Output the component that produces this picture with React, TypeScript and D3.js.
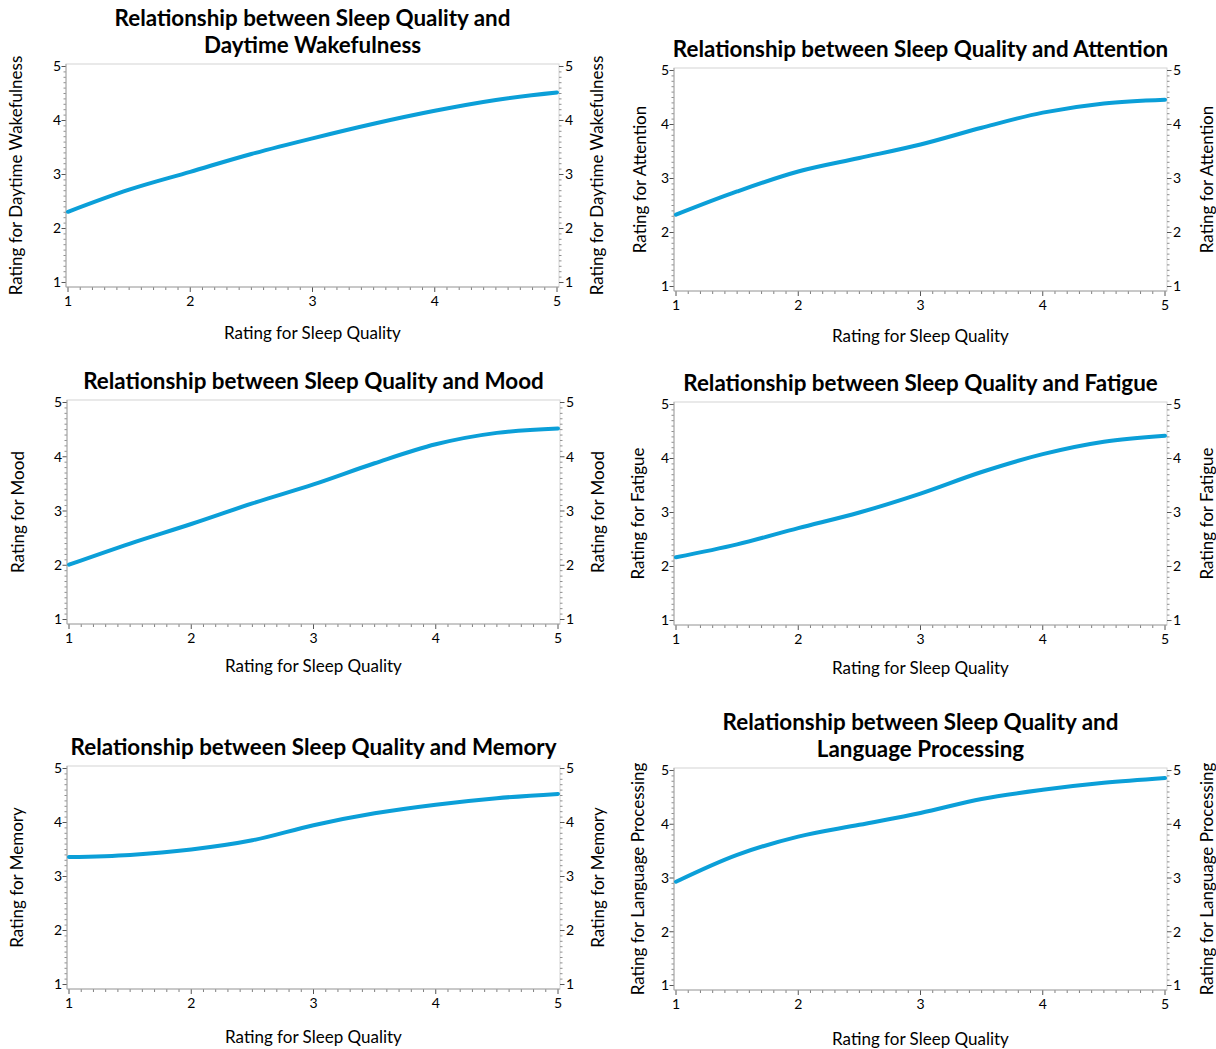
import React, { useEffect, useRef } from 'react';
import * as d3 from 'd3';

// sleep quality rating (x) sampled at half steps
const sleepQuality = [1, 1.5, 2, 2.5, 3, 3.5, 4, 4.5, 5];

// fitted outcome ratings
const wakefulness = [2.31, 2.72, 3.05, 3.38, 3.67, 3.94, 4.18, 4.38, 4.52];
const attention = [2.33, 2.76, 3.13, 3.38, 3.63, 3.94, 4.22, 4.39, 4.46];
const mood = [2.01, 2.40, 2.76, 3.14, 3.49, 3.88, 4.23, 4.44, 4.52];
const fatigue = [2.17, 2.41, 2.71, 3.0, 3.35, 3.75, 4.08, 4.31, 4.42];
const memory = [3.36, 3.40, 3.50, 3.67, 3.95, 4.17, 4.33, 4.45, 4.53];
const language = [2.93, 3.43, 3.77, 3.99, 4.21, 4.47, 4.64, 4.77, 4.86];

const titles = [
  ['Relationship between Sleep Quality and', 'Daytime Wakefulness'],
  ['Relationship between Sleep Quality and Attention'],
  ['Relationship between Sleep Quality and Mood'],
  ['Relationship between Sleep Quality and Fatigue'],
  ['Relationship between Sleep Quality and Memory'],
  ['Relationship between Sleep Quality and', 'Language Processing'],
];
const yTitles = [
  'Rating for Daytime Wakefulness',
  'Rating for Attention',
  'Rating for Mood',
  'Rating for Fatigue',
  'Rating for Memory',
  'Rating for Language Processing',
];
const xTitle = 'Rating for Sleep Quality';
const tickValues = [1, 2, 3, 4, 5];

const FONT = 'Lato, "Open Sans", sans-serif';
const LINE_COLOR = '#0b9fd8';

const App = () => {
  const svgRef = useRef(null);

  useEffect(() => {
    const svg = d3.select(svgRef.current);
    svg.selectAll('*').remove();

    const series = [wakefulness, attention, mood, fatigue, memory, language];

    // plot frames for the 3x2 grid
    const frames = [
      { left: 66, right: 559, top: 64, bottom: 287, xt: 46, yl: 16, yr: 597 },
      { left: 674, right: 1167, top: 68, bottom: 291, xt: 45, yl: 640, yr: 1207 },
      { left: 67, right: 560, top: 400, bottom: 624, xt: 42, yl: 18, yr: 598 },
      { left: 674, right: 1167, top: 402, bottom: 625, xt: 43, yl: 638, yr: 1207 },
      { left: 67, right: 560, top: 766, bottom: 989, xt: 48, yl: 17, yr: 598 },
      { left: 674, right: 1167, top: 768, bottom: 990, xt: 49, yl: 638, yr: 1207 },
    ];

    const minor = d3.range(10, 51).map(v => v / 10).filter(v => v % 1 !== 0);

    frames.forEach((f, i) => {
      const g = svg.append('g');
      const x = d3.scaleLinear().domain([1, 5]).range([f.left + 2, f.right - 2]);
      const y = d3.scaleLinear().domain([1, 5]).range([f.bottom - 4.5, f.top + 2.5]);
      const cx = (f.left + f.right) / 2;
      const cy = (f.top + f.bottom) / 2;

      // frame
      g.append('rect')
        .attr('x', f.left).attr('y', f.top)
        .attr('width', f.right - f.left).attr('height', f.bottom - f.top)
        .attr('fill', 'none').attr('stroke', '#d4d4d4').attr('stroke-width', 1);

      // minor ticks
      g.append('g').selectAll('line').data(minor).enter().append('line')
        .attr('x1', f.left - 2.5).attr('x2', f.left)
        .attr('y1', d => y(d)).attr('y2', d => y(d))
        .attr('stroke', '#8f8f8f').attr('stroke-width', 1);
      g.append('g').selectAll('line').data(minor).enter().append('line')
        .attr('x1', f.right).attr('x2', f.right + 2.5)
        .attr('y1', d => y(d)).attr('y2', d => y(d))
        .attr('stroke', '#8f8f8f').attr('stroke-width', 1);
      g.append('g').selectAll('line').data(minor).enter().append('line')
        .attr('x1', d => x(d)).attr('x2', d => x(d))
        .attr('y1', f.bottom).attr('y2', f.bottom + 3)
        .attr('stroke', '#808080').attr('stroke-width', 1);

      // major ticks + labels
      const tickStyle = (sel) => sel.attr('stroke', '#555').attr('stroke-width', 1);
      tickValues.forEach(v => {
        tickStyle(g.append('line').attr('x1', f.left - 4.5).attr('x2', f.left).attr('y1', y(v)).attr('y2', y(v)));
        tickStyle(g.append('line').attr('x1', f.right).attr('x2', f.right + 4.5).attr('y1', y(v)).attr('y2', y(v)));
        tickStyle(g.append('line').attr('x1', x(v)).attr('x2', x(v)).attr('y1', f.bottom).attr('y2', f.bottom + 5));

        g.append('text').attr('x', f.left - 5).attr('y', y(v)).attr('dy', '0.35em')
          .attr('text-anchor', 'end').style('font-family', FONT).style('font-size', '14px').text(v);
        g.append('text').attr('x', f.right + 6).attr('y', y(v)).attr('dy', '0.35em')
          .attr('text-anchor', 'start').style('font-family', FONT).style('font-size', '14px').text(v);
        g.append('text').attr('x', x(v)).attr('y', f.bottom + 14).attr('dy', '0.35em')
          .attr('text-anchor', 'middle').style('font-family', FONT).style('font-size', '14px').text(v);
      });

      // left/bottom axis lines
      g.append('line').attr('x1', f.left).attr('x2', f.left).attr('y1', f.top).attr('y2', f.bottom)
        .attr('stroke', '#a8a8a8');
      g.append('line').attr('x1', f.left).attr('x2', f.right).attr('y1', f.bottom).attr('y2', f.bottom)
        .attr('stroke', '#a8a8a8');

      // curve
      const line = d3.line()
        .x((d, j) => x(sleepQuality[j]))
        .y(d => y(d))
        .curve(d3.curveCatmullRom.alpha(0.5));
      g.append('path').datum(series[i])
        .attr('d', line)
        .attr('fill', 'none')
        .attr('stroke', LINE_COLOR)
        .attr('stroke-width', 4)
        .attr('stroke-linecap', 'round');

      // chart title
      const tl = titles[i];
      tl.forEach((t, k) => {
        g.append('text')
          .attr('x', cx)
          .attr('y', f.top - 19 - (tl.length - 1 - k) * 27)
          .attr('dy', '0.35em')
          .attr('text-anchor', 'middle')
          .style('font-family', FONT)
          .style('font-weight', 'bold')
          .style('font-size', '22.4px')
          .text(t);
      });

      // axis titles
      g.append('text').attr('x', cx).attr('y', f.bottom + f.xt).attr('dy', '0.35em')
        .attr('text-anchor', 'middle').style('font-family', FONT).style('font-size', '17px')
        .text(xTitle);
      [f.yl, f.yr].forEach(px => {
        g.append('text')
          .attr('transform', `translate(${px},${cy}) rotate(-90)`)
          .attr('dy', '0.35em')
          .attr('text-anchor', 'middle')
          .style('font-family', FONT).style('font-size', '17px')
          .text(yTitles[i]);
      });
    });
  }, []);

  return (
    <div style={{ position: 'absolute', left: 0, top: 0, background: '#fff' }}>
      <svg ref={svgRef} width={1216} height={1049} style={{ display: 'block' }}></svg>
    </div>
  );
};

export default App;
